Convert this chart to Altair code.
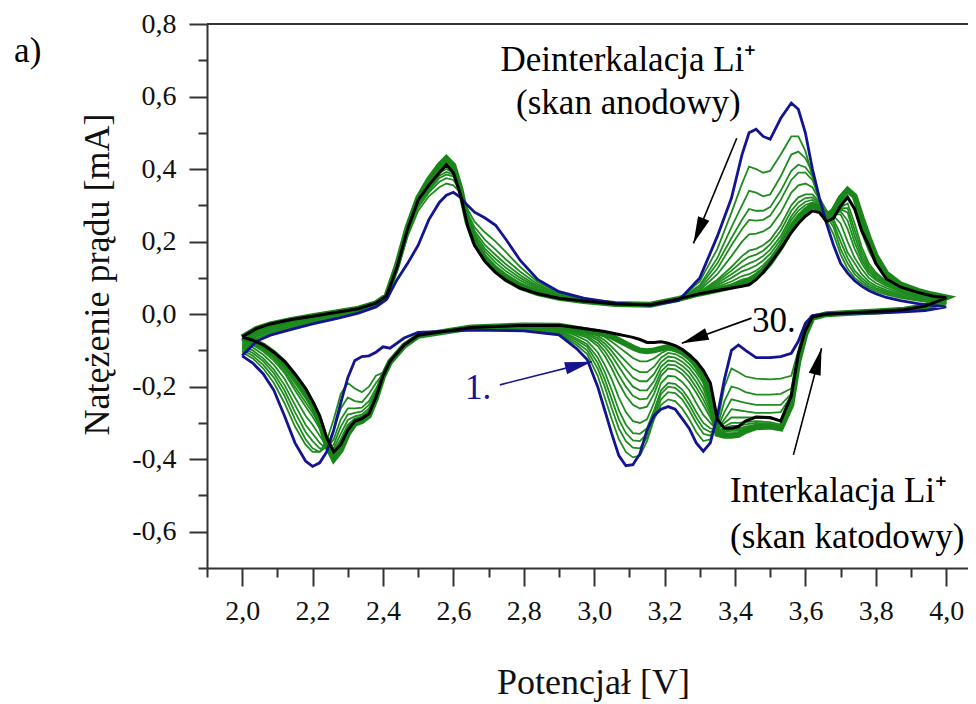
import math
import pandas as pd
import altair as alt

# ---------------- data: potential grids (V) ----------------
A_X = [2.00, 2.04, 2.08, 2.14, 2.20, 2.27, 2.33, 2.38,
       2.41, 2.44, 2.47, 2.50, 2.53, 2.56, 2.58, 2.60,
       2.62, 2.64, 2.66, 2.69, 2.72, 2.75, 2.79, 2.84,
       2.90, 2.97, 3.06, 3.16, 3.24, 3.30, 3.35, 3.39,
       3.42, 3.44, 3.46, 3.48, 3.50, 3.53, 3.56, 3.58,
       3.60, 3.62, 3.64, 3.66, 3.68, 3.70, 3.72, 3.74,
       3.76, 3.78, 3.80, 3.83, 3.87, 3.92, 3.96, 4.00]
C_X = [4.00, 3.94, 3.88, 3.80, 3.72, 3.66, 3.62, 3.60,
       3.58, 3.56, 3.53, 3.50, 3.46, 3.43, 3.41, 3.39,
       3.37, 3.35, 3.33, 3.31, 3.29, 3.27, 3.25, 3.23,
       3.21, 3.19, 3.17, 3.15, 3.13, 3.11, 3.09, 3.07,
       3.05, 3.03, 3.01, 2.98, 2.95, 2.90, 2.80, 2.65,
       2.50, 2.46, 2.42, 2.40, 2.38, 2.36, 2.34, 2.32,
       2.30, 2.28, 2.26, 2.24, 2.22, 2.20, 2.18, 2.15,
       2.12, 2.09, 2.06, 2.03, 2.00]

# ---------------- current (mA): cycle 1 (blue) ----------------
BLUE_A = [-0.115, -0.075, -0.058, -0.042, -0.027, -0.012, 0.003, 0.020,
          0.040, 0.095, 0.140, 0.190, 0.260, 0.308, 0.328, 0.336,
          0.322, 0.300, 0.281, 0.265, 0.245, 0.205, 0.148, 0.095,
          0.062, 0.044, 0.030, 0.024, 0.038, 0.100, 0.215, 0.320,
          0.440, 0.500, 0.510, 0.490, 0.482, 0.540, 0.582, 0.565,
          0.500, 0.400, 0.320, 0.250, 0.190, 0.140, 0.113, 0.092,
          0.077, 0.065, 0.056, 0.046, 0.037, 0.029, 0.024, 0.020]
BLUE_C = [0.020, 0.010, 0.006, 0.003, 0.003, 0.001, -0.004, -0.025,
          -0.075, -0.108, -0.117, -0.120, -0.120, -0.100, -0.085, -0.100,
          -0.180, -0.280, -0.355, -0.378, -0.355, -0.315, -0.288, -0.262,
          -0.255, -0.262, -0.280, -0.320, -0.385, -0.415, -0.418, -0.390,
          -0.330, -0.265, -0.200, -0.125, -0.095, -0.057, -0.046, -0.044,
          -0.050, -0.066, -0.094, -0.090, -0.105, -0.115, -0.117, -0.128,
          -0.175, -0.245, -0.320, -0.380, -0.410, -0.420, -0.405, -0.355,
          -0.280, -0.210, -0.165, -0.135, -0.115]

# ---------------- cycle 30 (black) ----------------
BLACK_A = [-0.063, -0.040, -0.027, -0.015, -0.006, 0.005, 0.015, 0.030,
           0.050, 0.130, 0.235, 0.315, 0.355, 0.390, 0.412, 0.390,
           0.330, 0.245, 0.190, 0.145, 0.115, 0.093, 0.072, 0.056,
           0.044, 0.036, 0.028, 0.026, 0.042, 0.056, 0.065, 0.072,
           0.077, 0.081, 0.095, 0.115, 0.140, 0.180, 0.225, 0.250,
           0.270, 0.285, 0.280, 0.255, 0.265, 0.298, 0.322, 0.290,
           0.230, 0.190, 0.140, 0.097, 0.075, 0.060, 0.050, 0.045]
BLACK_C = [0.045, 0.022, 0.012, 0.007, 0.003, 0.000, -0.008, -0.045,
           -0.110, -0.225, -0.295, -0.285, -0.284, -0.295, -0.310, -0.315,
           -0.315, -0.290, -0.190, -0.155, -0.130, -0.113, -0.097, -0.087,
           -0.080, -0.076, -0.078, -0.078, -0.070, -0.064, -0.060, -0.056,
           -0.052, -0.048, -0.045, -0.041, -0.037, -0.031, -0.031, -0.037,
           -0.058, -0.085, -0.130, -0.170, -0.230, -0.275, -0.288, -0.295,
           -0.320, -0.360, -0.380, -0.340, -0.280, -0.240, -0.205, -0.165,
           -0.130, -0.105, -0.085, -0.072, -0.063]

# ---------------- late cycles (dense green band) ----------------
LATE_A = [-0.064, -0.041, -0.028, -0.016, -0.006, 0.005, 0.015, 0.030,
          0.050, 0.135, 0.240, 0.320, 0.370, 0.410, 0.430, 0.410,
          0.345, 0.255, 0.200, 0.152, 0.120, 0.097, 0.075, 0.058,
          0.045, 0.036, 0.028, 0.026, 0.042, 0.057, 0.067, 0.076,
          0.085, 0.092, 0.104, 0.120, 0.142, 0.185, 0.235, 0.262,
          0.285, 0.300, 0.290, 0.270, 0.285, 0.320, 0.342, 0.325,
          0.265, 0.210, 0.160, 0.112, 0.082, 0.064, 0.054, 0.046]
LATE_C = [0.046, 0.022, 0.012, 0.007, 0.003, 0.000, -0.010, -0.055,
          -0.130, -0.250, -0.315, -0.310, -0.312, -0.322, -0.333, -0.335,
          -0.335, -0.330, -0.230, -0.170, -0.140, -0.117, -0.103, -0.095,
          -0.090, -0.095, -0.100, -0.102, -0.100, -0.092, -0.082, -0.072,
          -0.062, -0.055, -0.050, -0.045, -0.040, -0.032, -0.031, -0.037,
          -0.060, -0.087, -0.132, -0.172, -0.232, -0.280, -0.295, -0.302,
          -0.330, -0.375, -0.400, -0.360, -0.295, -0.250, -0.213, -0.172,
          -0.135, -0.108, -0.087, -0.073, -0.064]

# ---------------- intermediate cycles (green) ----------------
G2_A = [-0.105, -0.068, -0.052, -0.037, -0.023, -0.009, 0.005, 0.022,
        0.048, 0.120, 0.215, 0.285, 0.325, 0.350, 0.360, 0.355,
        0.335, 0.290, 0.255, 0.225, 0.200, 0.170, 0.130, 0.088,
        0.060, 0.043, 0.029, 0.025, 0.040, 0.090, 0.180, 0.280,
        0.360, 0.407, 0.400, 0.390, 0.395, 0.440, 0.490, 0.490,
        0.450, 0.380, 0.310, 0.260, 0.220, 0.165, 0.125, 0.100,
        0.085, 0.072, 0.063, 0.054, 0.045, 0.037, 0.032, 0.028]
G2_C = [0.028, 0.012, 0.007, 0.004, 0.003, 0.000, -0.006, -0.030,
        -0.100, -0.170, -0.178, -0.180, -0.178, -0.172, -0.160, -0.150,
        -0.200, -0.300, -0.345, -0.350, -0.325, -0.290, -0.260, -0.240,
        -0.235, -0.250, -0.290, -0.350, -0.390, -0.395, -0.380, -0.345,
        -0.290, -0.230, -0.170, -0.110, -0.085, -0.054, -0.044, -0.043,
        -0.058, -0.085, -0.130, -0.162, -0.170, -0.200, -0.215, -0.205,
        -0.190, -0.220, -0.290, -0.350, -0.380, -0.380, -0.360, -0.310,
        -0.245, -0.190, -0.150, -0.122, -0.105]
G3_A = [-0.098, -0.063, -0.048, -0.034, -0.021, -0.007, 0.007, 0.024,
        0.050, 0.125, 0.225, 0.295, 0.335, 0.365, 0.375, 0.370,
        0.340, 0.280, 0.240, 0.205, 0.178, 0.150, 0.117, 0.082,
        0.057, 0.042, 0.029, 0.025, 0.040, 0.080, 0.155, 0.240,
        0.300, 0.340, 0.335, 0.325, 0.330, 0.380, 0.440, 0.448,
        0.430, 0.390, 0.320, 0.270, 0.240, 0.180, 0.140, 0.110,
        0.092, 0.077, 0.068, 0.058, 0.048, 0.039, 0.034, 0.030]
G3_C = [0.030, 0.013, 0.008, 0.004, 0.003, 0.000, -0.006, -0.033,
        -0.105, -0.205, -0.220, -0.222, -0.222, -0.215, -0.205, -0.200,
        -0.240, -0.310, -0.335, -0.330, -0.300, -0.265, -0.235, -0.218,
        -0.215, -0.235, -0.285, -0.340, -0.370, -0.368, -0.350, -0.315,
        -0.260, -0.200, -0.150, -0.100, -0.078, -0.051, -0.042, -0.042,
        -0.058, -0.088, -0.135, -0.165, -0.190, -0.220, -0.243, -0.240,
        -0.230, -0.260, -0.320, -0.365, -0.380, -0.370, -0.345, -0.290,
        -0.225, -0.175, -0.140, -0.115, -0.098]
G4_A = [-0.093, -0.060, -0.045, -0.031, -0.019, -0.005, 0.008, 0.025,
        0.050, 0.128, 0.230, 0.300, 0.340, 0.375, 0.385, 0.380,
        0.345, 0.275, 0.230, 0.190, 0.163, 0.137, 0.107, 0.077,
        0.055, 0.041, 0.029, 0.025, 0.040, 0.075, 0.140, 0.210,
        0.260, 0.290, 0.285, 0.285, 0.295, 0.340, 0.395, 0.412,
        0.405, 0.380, 0.320, 0.280, 0.250, 0.200, 0.155, 0.120,
        0.100, 0.083, 0.072, 0.062, 0.051, 0.041, 0.036, 0.032]
G4_C = [0.032, 0.014, 0.008, 0.005, 0.003, 0.000, -0.007, -0.036,
        -0.108, -0.220, -0.250, -0.250, -0.250, -0.245, -0.240, -0.235,
        -0.270, -0.315, -0.325, -0.315, -0.285, -0.250, -0.220, -0.203,
        -0.200, -0.220, -0.275, -0.330, -0.350, -0.348, -0.328, -0.290,
        -0.235, -0.180, -0.135, -0.090, -0.072, -0.048, -0.040, -0.041,
        -0.058, -0.087, -0.133, -0.168, -0.205, -0.240, -0.258, -0.260,
        -0.260, -0.290, -0.345, -0.370, -0.370, -0.350, -0.325, -0.270,
        -0.210, -0.163, -0.130, -0.107, -0.093]
G5_A = [-0.088, -0.057, -0.042, -0.028, -0.017, -0.003, 0.009, 0.026,
        0.050, 0.130, 0.232, 0.305, 0.345, 0.382, 0.392, 0.385,
        0.345, 0.270, 0.222, 0.180, 0.152, 0.127, 0.100, 0.073,
        0.053, 0.040, 0.029, 0.025, 0.040, 0.070, 0.125, 0.190,
        0.235, 0.260, 0.258, 0.260, 0.272, 0.315, 0.370, 0.390,
        0.390, 0.370, 0.320, 0.285, 0.260, 0.220, 0.170, 0.140,
        0.110, 0.090, 0.078, 0.066, 0.055, 0.044, 0.038, 0.034]
G5_C = [0.034, 0.015, 0.009, 0.005, 0.003, 0.000, -0.007, -0.038,
        -0.110, -0.225, -0.270, -0.272, -0.272, -0.268, -0.265, -0.262,
        -0.290, -0.318, -0.315, -0.300, -0.270, -0.235, -0.208, -0.192,
        -0.190, -0.210, -0.265, -0.315, -0.330, -0.328, -0.305, -0.265,
        -0.210, -0.160, -0.120, -0.083, -0.067, -0.045, -0.039, -0.040,
        -0.058, -0.086, -0.132, -0.168, -0.213, -0.250, -0.268, -0.272,
        -0.277, -0.310, -0.360, -0.372, -0.355, -0.330, -0.305, -0.250,
        -0.195, -0.153, -0.122, -0.100, -0.088]
G7_A = [-0.082, -0.053, -0.039, -0.025, -0.015, -0.001, 0.010, 0.027,
        0.050, 0.130, 0.233, 0.310, 0.350, 0.390, 0.400, 0.390,
        0.345, 0.265, 0.215, 0.172, 0.142, 0.118, 0.093, 0.069,
        0.051, 0.039, 0.029, 0.025, 0.040, 0.066, 0.110, 0.160,
        0.200, 0.220, 0.222, 0.228, 0.240, 0.280, 0.335, 0.355,
        0.360, 0.350, 0.315, 0.285, 0.270, 0.250, 0.200, 0.155,
        0.125, 0.100, 0.086, 0.072, 0.059, 0.047, 0.040, 0.036]
G7_C = [0.036, 0.016, 0.009, 0.005, 0.003, 0.000, -0.007, -0.040,
        -0.110, -0.225, -0.292, -0.288, -0.285, -0.285, -0.285, -0.285,
        -0.300, -0.320, -0.300, -0.278, -0.245, -0.210, -0.187, -0.172,
        -0.170, -0.190, -0.245, -0.290, -0.300, -0.295, -0.270, -0.230,
        -0.180, -0.140, -0.105, -0.074, -0.060, -0.042, -0.037, -0.039,
        -0.058, -0.086, -0.131, -0.169, -0.220, -0.260, -0.277, -0.282,
        -0.292, -0.330, -0.370, -0.365, -0.335, -0.305, -0.280, -0.230,
        -0.178, -0.140, -0.112, -0.092, -0.082]
G10_A = [-0.076, -0.049, -0.035, -0.022, -0.012, 0.001, 0.012, 0.028,
         0.050, 0.130, 0.234, 0.313, 0.355, 0.395, 0.407, 0.395,
         0.345, 0.260, 0.207, 0.163, 0.133, 0.110, 0.086, 0.065,
         0.049, 0.038, 0.029, 0.025, 0.041, 0.062, 0.095, 0.130,
         0.160, 0.175, 0.180, 0.190, 0.205, 0.245, 0.300, 0.322,
         0.330, 0.330, 0.310, 0.280, 0.275, 0.275, 0.235, 0.180,
         0.140, 0.110, 0.094, 0.078, 0.063, 0.050, 0.043, 0.038]
G10_C = [0.038, 0.018, 0.010, 0.006, 0.003, 0.000, -0.008, -0.042,
         -0.110, -0.225, -0.305, -0.298, -0.295, -0.298, -0.300, -0.300,
         -0.310, -0.325, -0.285, -0.250, -0.217, -0.187, -0.165, -0.152,
         -0.150, -0.170, -0.220, -0.255, -0.260, -0.250, -0.225, -0.190,
         -0.150, -0.115, -0.088, -0.065, -0.055, -0.039, -0.035, -0.038,
         -0.058, -0.085, -0.130, -0.170, -0.225, -0.267, -0.282, -0.288,
         -0.305, -0.345, -0.378, -0.355, -0.315, -0.283, -0.255, -0.210,
         -0.162, -0.128, -0.103, -0.085, -0.076]
G12_A = [-0.073, -0.047, -0.033, -0.020, -0.010, 0.002, 0.013, 0.029,
         0.050, 0.130, 0.235, 0.314, 0.358, 0.398, 0.410, 0.398,
         0.345, 0.257, 0.203, 0.160, 0.129, 0.106, 0.083, 0.063,
         0.048, 0.037, 0.029, 0.025, 0.041, 0.061, 0.090, 0.120,
         0.145, 0.158, 0.164, 0.175, 0.192, 0.230, 0.285, 0.308,
         0.320, 0.322, 0.305, 0.278, 0.275, 0.283, 0.258, 0.198,
         0.150, 0.118, 0.099, 0.082, 0.065, 0.052, 0.045, 0.039]
G12_C = [0.039, 0.018, 0.010, 0.006, 0.003, 0.000, -0.008, -0.043,
         -0.110, -0.225, -0.308, -0.302, -0.300, -0.304, -0.308, -0.308,
         -0.315, -0.328, -0.275, -0.235, -0.202, -0.173, -0.153, -0.141,
         -0.139, -0.158, -0.203, -0.233, -0.235, -0.225, -0.200, -0.168,
         -0.132, -0.102, -0.080, -0.061, -0.052, -0.037, -0.034, -0.038,
         -0.058, -0.085, -0.130, -0.170, -0.227, -0.270, -0.284, -0.290,
         -0.309, -0.350, -0.380, -0.352, -0.306, -0.272, -0.243, -0.200,
         -0.155, -0.122, -0.099, -0.082, -0.073]
G14_A = [-0.070, -0.045, -0.031, -0.019, -0.009, 0.003, 0.013, 0.029,
         0.050, 0.130, 0.235, 0.315, 0.360, 0.400, 0.413, 0.400,
         0.345, 0.255, 0.200, 0.156, 0.125, 0.103, 0.080, 0.061,
         0.047, 0.037, 0.029, 0.025, 0.041, 0.060, 0.085, 0.110,
         0.130, 0.140, 0.148, 0.160, 0.178, 0.215, 0.270, 0.295,
         0.310, 0.315, 0.300, 0.275, 0.275, 0.290, 0.280, 0.215,
         0.160, 0.125, 0.104, 0.085, 0.067, 0.053, 0.046, 0.040]
G14_C = [0.040, 0.019, 0.011, 0.006, 0.003, 0.000, -0.008, -0.044,
         -0.110, -0.225, -0.312, -0.305, -0.305, -0.310, -0.315, -0.315,
         -0.320, -0.330, -0.265, -0.220, -0.187, -0.160, -0.142, -0.130,
         -0.128, -0.145, -0.185, -0.210, -0.210, -0.200, -0.175, -0.145,
         -0.115, -0.090, -0.072, -0.057, -0.050, -0.036, -0.033, -0.038,
         -0.058, -0.085, -0.130, -0.170, -0.228, -0.272, -0.286, -0.292,
         -0.313, -0.355, -0.382, -0.348, -0.298, -0.262, -0.232, -0.190,
         -0.148, -0.117, -0.095, -0.079, -0.070]
G16_A = [-0.068, -0.043, -0.030, -0.018, -0.008, 0.003, 0.013, 0.029,
         0.050, 0.130, 0.235, 0.315, 0.361, 0.402, 0.416, 0.402,
         0.345, 0.252, 0.197, 0.153, 0.122, 0.100, 0.078, 0.060,
         0.046, 0.036, 0.029, 0.025, 0.041, 0.059, 0.080, 0.100,
         0.118, 0.125, 0.134, 0.148, 0.166, 0.205, 0.260, 0.285,
         0.301, 0.308, 0.298, 0.272, 0.272, 0.292, 0.292, 0.232,
         0.172, 0.132, 0.110, 0.088, 0.069, 0.054, 0.047, 0.041]
G16_C = [0.041, 0.019, 0.011, 0.006, 0.003, 0.000, -0.008, -0.044,
         -0.110, -0.225, -0.315, -0.308, -0.308, -0.314, -0.318, -0.318,
         -0.322, -0.330, -0.255, -0.205, -0.173, -0.148, -0.131, -0.120,
         -0.117, -0.132, -0.165, -0.185, -0.185, -0.175, -0.152, -0.127,
         -0.102, -0.081, -0.066, -0.053, -0.047, -0.035, -0.032, -0.037,
         -0.058, -0.085, -0.130, -0.170, -0.229, -0.273, -0.287, -0.293,
         -0.315, -0.357, -0.383, -0.346, -0.294, -0.256, -0.225, -0.183,
         -0.143, -0.113, -0.092, -0.077, -0.068]
G19_A = [-0.066, -0.042, -0.029, -0.017, -0.007, 0.004, 0.014, 0.030,
         0.050, 0.130, 0.235, 0.316, 0.362, 0.403, 0.418, 0.405,
         0.345, 0.250, 0.195, 0.150, 0.120, 0.098, 0.076, 0.058,
         0.045, 0.036, 0.028, 0.025, 0.042, 0.058, 0.075, 0.090,
         0.105, 0.110, 0.120, 0.135, 0.155, 0.195, 0.250, 0.275,
         0.292, 0.300, 0.295, 0.270, 0.270, 0.295, 0.305, 0.250,
         0.185, 0.140, 0.115, 0.090, 0.070, 0.055, 0.048, 0.042]
G19_C = [0.042, 0.020, 0.011, 0.007, 0.003, 0.000, -0.008, -0.045,
         -0.110, -0.225, -0.318, -0.310, -0.312, -0.318, -0.322, -0.322,
         -0.325, -0.330, -0.245, -0.190, -0.160, -0.137, -0.120, -0.110,
         -0.107, -0.120, -0.145, -0.160, -0.160, -0.150, -0.130, -0.110,
         -0.090, -0.072, -0.060, -0.050, -0.045, -0.034, -0.032, -0.037,
         -0.058, -0.085, -0.130, -0.170, -0.230, -0.275, -0.288, -0.295,
         -0.318, -0.360, -0.385, -0.345, -0.290, -0.250, -0.218, -0.177,
         -0.138, -0.110, -0.089, -0.075, -0.066]
G22_A = [-0.065, -0.041, -0.028, -0.016, -0.006, 0.005, 0.015, 0.030,
         0.050, 0.132, 0.237, 0.318, 0.366, 0.407, 0.425, 0.408,
         0.345, 0.252, 0.197, 0.151, 0.120, 0.097, 0.075, 0.058,
         0.045, 0.036, 0.028, 0.025, 0.042, 0.057, 0.070, 0.082,
         0.095, 0.100, 0.112, 0.127, 0.148, 0.190, 0.242, 0.268,
         0.288, 0.300, 0.292, 0.270, 0.278, 0.308, 0.325, 0.290,
         0.225, 0.175, 0.138, 0.100, 0.076, 0.060, 0.051, 0.044]
G22_C = [0.044, 0.021, 0.012, 0.007, 0.003, 0.000, -0.009, -0.050,
         -0.120, -0.238, -0.317, -0.310, -0.312, -0.320, -0.328, -0.328,
         -0.330, -0.330, -0.238, -0.180, -0.150, -0.127, -0.112, -0.103,
         -0.098, -0.108, -0.122, -0.130, -0.130, -0.121, -0.106, -0.091,
         -0.076, -0.063, -0.055, -0.047, -0.042, -0.033, -0.031, -0.037,
         -0.059, -0.086, -0.131, -0.171, -0.231, -0.277, -0.291, -0.298,
         -0.324, -0.367, -0.392, -0.352, -0.292, -0.250, -0.215, -0.175,
         -0.136, -0.109, -0.088, -0.074, -0.065]

CURVES = [
    ("2", "thin", G2_A, G2_C), ("3", "thin", G3_A, G3_C),
    ("4", "thin", G4_A, G4_C), ("5", "thin", G5_A, G5_C),
    ("7", "thin", G7_A, G7_C), ("10", "thin", G10_A, G10_C),
    ("12", "thin", G12_A, G12_C), ("14", "thin", G14_A, G14_C),
    ("16", "thin", G16_A, G16_C), ("19", "thin", G19_A, G19_C),
    ("22", "thin", G22_A, G22_C),
    ("25", "late", LATE_A, LATE_C),
    ("1", "first", BLUE_A, BLUE_C),
    ("30", "last", BLACK_A, BLACK_C),
]

# ---------------- axis ticks ----------------
X_TICKS = [1.9, 2.0, 2.1, 2.2, 2.3, 2.4, 2.5, 2.6, 2.7, 2.8, 2.9, 3.0,
           3.1, 3.2, 3.3, 3.4, 3.5, 3.6, 3.7, 3.8, 3.9, 4.0]
Y_TICKS = [-0.7, -0.6, -0.5, -0.4, -0.3, -0.2, -0.1, 0.0,
           0.1, 0.2, 0.3, 0.4, 0.5, 0.6, 0.7, 0.8]

# ---------------- annotations ----------------
TXT_CENTER = ["Deinterkalacja Li\u207a", "(skan anodowy)"]
TXT_CENTER_V = [3.097, 3.097]
TXT_CENTER_I = [0.670, 0.551]
TXT_LEFT = ["Interkalacja Li\u207a", "(skan katodowy)", "30.", "1.", "a)"]
TXT_LEFT_V = [3.386, 3.386, 3.448, 2.633, 1.352]
TXT_LEFT_I = [-0.518, -0.645, -0.049, -0.234, 0.695]
TXT_LEFT_COLOR = ["#000000", "#000000", "#000000", "#141490", "#000000"]

ARROW_V1 = [3.405, 3.447, 2.732, 3.566]
ARROW_I1 = [0.485, -0.011, -0.195, -0.388]
ARROW_V2 = [3.282, 3.249, 2.993, 3.646]
ARROW_I2 = [0.195, -0.080, -0.131, -0.094]
ARROW_COLOR = ["#000000", "#000000", "#141490", "#000000"]

# ---------------- build ----------------
FONT = "Liberation Serif, Times New Roman, serif"
BLUE = "#141490"
GREEN = "#1f8c1f"
XMIN, XMAX = 1.9, 4.062
YMIN, YMAX = -0.7, 0.8
W, H = 761, 544

rows = []
for name, kind, a, c in CURVES:
    assert len(a) == len(A_X), (name, len(a))
    assert len(c) == len(C_X), (name, len(c))
    xs = A_X + C_X
    ys = a + c
    for k, (xv, yv) in enumerate(zip(xs, ys)):
        rows.append({"cycle": name, "kind": kind, "V": xv, "I": yv, "k": k})
df = pd.DataFrame(rows)

MAJOR = "abs(round(datum.value*10)) % 2 == 0"
LABEL = (MAJOR + " ? (datum.value < -0.001 ? '-' : '') + "
         "replace(format(abs(datum.value), '.1f'), '.', ',') : ''")
TICK_SIZE = {"condition": {"test": MAJOR, "value": 18}, "value": 9}

x_axis = alt.Axis(values=X_TICKS, title="Potencjał [V]", labelExpr=LABEL,
                  tickSize=TICK_SIZE, labelPadding=11, labelFlush=False,
                  labelOverlap=False, labelFont=FONT, labelFontSize=28,
                  titleFont=FONT, titleFontSize=36, titleX=386, titleY=125,
                  titleAlign="center", titleBaseline="alphabetic")
y_axis = alt.Axis(values=Y_TICKS, title="Natężenie prądu [mA]", labelExpr=LABEL,
                  tickSize=TICK_SIZE, labelPadding=13, labelOverlap=False,
                  labelFont=FONT, labelFontSize=28,
                  titleFont=FONT, titleFontSize=36,
                  titleX=-110, titleY=250, titleAngle=270,
                  titleAlign="center", titleBaseline="middle")
xs_scale = alt.Scale(domain=[XMIN, XMAX], nice=False, zero=False)
ys_scale = alt.Scale(domain=[YMIN, YMAX], nice=False, zero=False)


def X(field):
    return alt.X(field, type="quantitative", scale=xs_scale, axis=x_axis)


def Y(field):
    return alt.Y(field, type="quantitative", scale=ys_scale, axis=y_axis)


base = alt.Chart(df)
thin = base.transform_filter("datum.kind == 'thin'").mark_line(
    color=GREEN, strokeWidth=1.8).encode(x=X("V"), y=Y("I"), detail="cycle:N", order="k:Q")
late = base.transform_filter("datum.kind == 'late'").mark_line(
    color="#1a861a", strokeWidth=6).encode(x=X("V"), y=Y("I"), detail="cycle:N", order="k:Q")
first = base.transform_filter("datum.kind == 'first'").mark_line(
    color=BLUE, strokeWidth=2.8).encode(x=X("V"), y=Y("I"), detail="cycle:N", order="k:Q")
last = base.transform_filter("datum.kind == 'last'").mark_line(
    color="#000000", strokeWidth=3).encode(x=X("V"), y=Y("I"), detail="cycle:N", order="k:Q")

top_border = alt.Chart(pd.DataFrame({"I": [YMAX]})).mark_rule(
    color="#333333", strokeWidth=2).encode(y=Y("I"))

txt_c = alt.Chart(pd.DataFrame({"t": TXT_CENTER, "V": TXT_CENTER_V, "I": TXT_CENTER_I})).mark_text(
    font=FONT, fontSize=35, align="center", baseline="alphabetic", color="#000000"
).encode(x=X("V"), y=Y("I"), text="t:N")
txt_l = alt.Chart(pd.DataFrame({"t": TXT_LEFT, "V": TXT_LEFT_V, "I": TXT_LEFT_I,
                                "c": TXT_LEFT_COLOR})).mark_text(
    font=FONT, fontSize=35, align="left", baseline="alphabetic"
).encode(x=X("V"), y=Y("I"), text="t:N", color=alt.Color("c:N", scale=None))

pxv = W / (XMAX - XMIN)
pxi = H / (YMAX - YMIN)
angles = []
for v1, i1, v2, i2 in zip(ARROW_V1, ARROW_I1, ARROW_V2, ARROW_I2):
    dx = (v2 - v1) * pxv
    dy = -(i2 - i1) * pxi
    angles.append(math.degrees(math.atan2(dx, -dy)) % 360)
arr_df = pd.DataFrame({"V": ARROW_V1, "I": ARROW_I1, "V2": ARROW_V2, "I2": ARROW_I2,
                       "c": ARROW_COLOR, "ang": angles})
shafts = alt.Chart(arr_df).mark_rule(strokeWidth=1.6).encode(
    x=X("V"), y=Y("I"), x2="V2:Q", y2="I2:Q", color=alt.Color("c:N", scale=None))
HEAD = "M0,0L-0.5,2.2L0.5,2.2Z"
heads = alt.Chart(arr_df).mark_point(shape=HEAD, filled=True, size=600, opacity=1,
                                     strokeWidth=0).encode(
    x=X("V2"), y=Y("I2"), angle=alt.Angle("ang:Q", scale=None),
    color=alt.Color("c:N", scale=None))

chart = alt.layer(thin, late, first, last, top_border, shafts, heads, txt_c, txt_l).properties(
    width=W, height=H,
    padding={"left": 199, "top": 16, "right": 0, "bottom": 134},
    autosize=alt.AutoSizeParams(type="none"),
    background="#ffffff",
).configure_view(stroke=None).configure_axis(
    domainColor="#333333", domainWidth=2, tickColor="#333333", tickWidth=2,
    labelColor="#111111", titleFontWeight="normal", titleColor="#111111",
    grid=False,
)

chart.save("out.html", embed_options={"renderer": "svg", "actions": False})
